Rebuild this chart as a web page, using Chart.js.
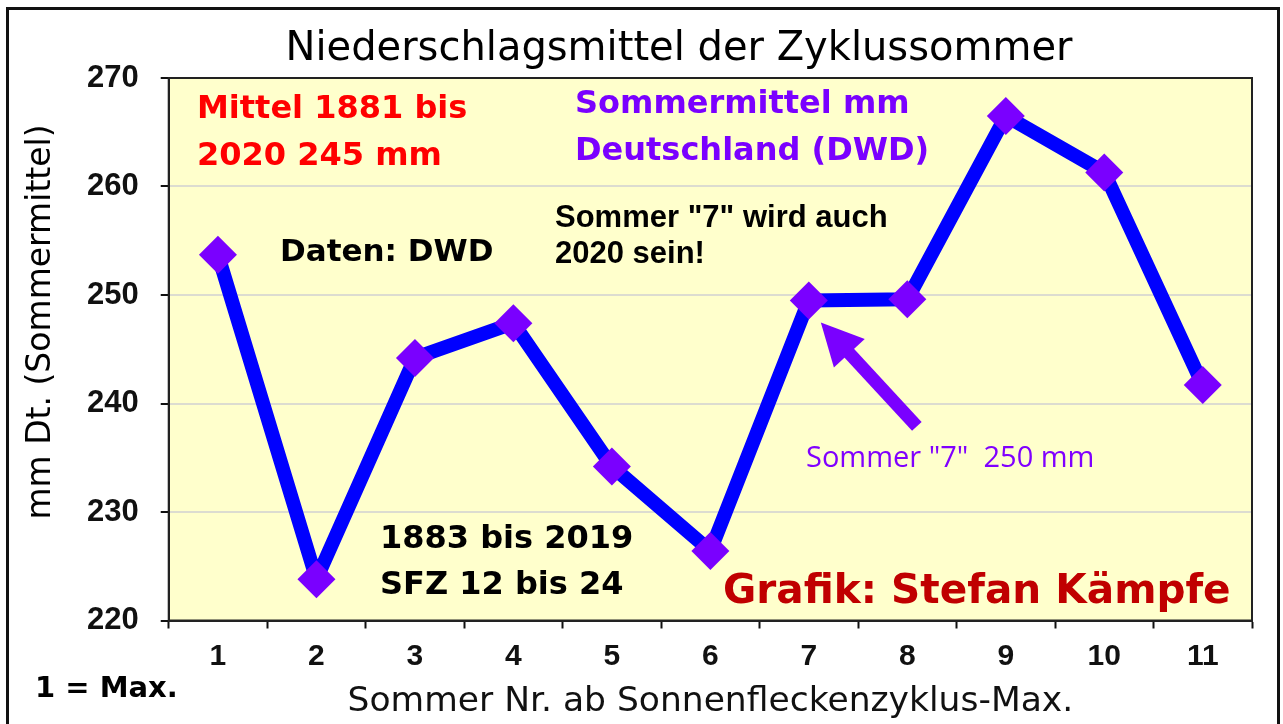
<!DOCTYPE html>
<html>
<head>
<meta charset="utf-8">
<script src="https://cdn.jsdelivr.net/npm/chart.js@4/dist/chart.umd.min.js"></script>
<style>
  html, body { margin: 0; padding: 0; background: #fff; }
  canvas { display: block; }
</style>
</head>
<body>
<canvas id="chart" width="1283" height="724"></canvas>
<script>
// Sommer-Nr. nach dem Sonnenfleckenzyklus-Maximum
const summers = ['1', '2', '3', '4', '5', '6', '7', '8', '9', '10', '11'];
// Niederschlag Sommermittel Deutschland in mm
const rainfall = [253.7, 223.8, 244.2, 247.4, 234.2, 226.4, 249.5, 249.6, 266.5, 261.3, 241.7];
const yMin = 220;
const yMax = 270;
const yStep = 10;

const chartTitle = 'Niederschlagsmittel der Zyklussommer';
const yTitle = 'mm Dt. (Sommermittel)';
const xTitle = 'Sommer Nr. ab Sonnenfleckenzyklus-Max.';

const BOLD = 'bold 32px "DejaVu Sans"';
const notes = [
  { lines: ['Mittel 1881 bis', '2020 245 mm'], x: 197, y: 118, dy: 47, font: BOLD, color: '#ff0000' },
  { lines: ['Sommermittel mm', 'Deutschland (DWD)'], x: 575, y: 113, dy: 47, font: BOLD, color: '#7a00ff' },
  { lines: ['Daten: DWD'], x: 280, y: 261, dy: 0, font: 'bold 31px "DejaVu Sans"', color: '#000' },
  { lines: ['Sommer "7" wird auch', '2020 sein!'], x: 555, y: 227, dy: 36, font: 'bold 31px "Liberation Sans"', color: '#000' },
  { lines: ['1883 bis 2019', 'SFZ 12 bis 24'], x: 380, y: 548, dy: 46, font: BOLD, color: '#000' },
  { lines: ['Grafik: Stefan Kämpfe'], x: 723, y: 603, dy: 0, font: 'bold 40.6px "DejaVu Sans"', color: '#c00000' },
  { lines: ['1 = Max.'], x: 35, y: 697, dy: 0, font: 'bold 29px "DejaVu Sans"', color: '#000' },
  { lines: ['Sommer "7"  250 mm'], x: 806, y: 467, dy: 0, font: '29px "Open Sans"', color: '#8000ff' }
];

const decor = {
  id: 'decor',
  beforeDraw(chart) {
    const { ctx, chartArea: a } = chart;
    ctx.save();
    ctx.fillStyle = '#fff';
    ctx.fillRect(0, 0, chart.width, chart.height);
    ctx.strokeStyle = '#111';
    ctx.lineWidth = 3;
    ctx.strokeRect(7.5, 8.5, 1271, 760);
    ctx.fillStyle = '#ffffcc';
    ctx.fillRect(a.left, a.top, a.right - a.left, a.bottom - a.top);
    ctx.restore();
  },
  beforeDatasetsDraw(chart) {
    const { ctx, chartArea: a } = chart;
    ctx.save();
    ctx.strokeStyle = '#222';
    ctx.lineWidth = 2;
    ctx.strokeRect(a.left, a.top, a.right - a.left, a.bottom - a.top);
    ctx.restore();
  },
  afterDraw(chart) {
    const { ctx } = chart;
    ctx.save();
    // Titel
    ctx.fillStyle = '#000';
    ctx.font = '40px "DejaVu Sans"';
    ctx.textAlign = 'center';
    ctx.textBaseline = 'alphabetic';
    ctx.fillText(chartTitle, 679, 60);
    // Y-Achsentitel
    ctx.save();
    ctx.translate(50, 322);
    ctx.rotate(-Math.PI / 2);
    ctx.font = '33px "DejaVu Sans"';
    ctx.fillText(yTitle, 0, 0);
    ctx.restore();
    // Textfelder
    ctx.textAlign = 'left';
    notes.forEach(n => {
      ctx.font = n.font;
      ctx.fillStyle = n.color;
      n.lines.forEach((t, i) => ctx.fillText(t, n.x, n.y + i * n.dy));
    });
    // Pfeil auf Sommer 7
    const meta = chart.getDatasetMeta(0);
    const p = meta.data[6];
    const tipX = p.x + 12, tipY = p.y + 22;
    const tailX = p.x + 108, tailY = p.y + 126;
    const ang = Math.atan2(tipY - tailY, tipX - tailX);
    const headLen = 42, headHalf = 21;
    const bx = tipX - Math.cos(ang) * headLen, by = tipY - Math.sin(ang) * headLen;
    ctx.strokeStyle = '#7a00ff';
    ctx.fillStyle = '#7a00ff';
    ctx.lineWidth = 13;
    ctx.beginPath();
    ctx.moveTo(tailX, tailY);
    ctx.lineTo(bx + Math.cos(ang) * 4, by + Math.sin(ang) * 4);
    ctx.stroke();
    ctx.beginPath();
    ctx.moveTo(tipX, tipY);
    ctx.lineTo(bx + Math.sin(ang) * headHalf, by - Math.cos(ang) * headHalf);
    ctx.lineTo(bx - Math.sin(ang) * headHalf, by + Math.cos(ang) * headHalf);
    ctx.closePath();
    ctx.fill();
    ctx.restore();
  }
};

new Chart(document.getElementById('chart'), {
  type: 'line',
  data: {
    labels: summers,
    datasets: [{
      label: 'Sommermittel mm',
      data: rainfall,
      borderColor: '#0000ff',
      borderWidth: 14,
      borderJoinStyle: 'bevel',
      tension: 0,
      pointStyle: 'rectRot',
      pointRadius: 19,
      pointHoverRadius: 19,
      pointBackgroundColor: '#7a00ff',
      pointBorderWidth: 0
    }]
  },
  options: {
    responsive: false,
    devicePixelRatio: 1,
    animation: false,
    layout: { padding: { left: 65, right: 31, top: 78, bottom: 0 } },
    plugins: {
      legend: { display: false },
      tooltip: { enabled: false }
    },
    scales: {
      x: {
        offset: true,
        grid: { offset: true, drawOnChartArea: false, tickLength: 8, tickColor: '#111', tickWidth: 2 },
        border: { color: '#222', width: 2 },
        ticks: { color: '#111', padding: 13, font: { family: 'Liberation Sans', size: 30, weight: 'bold', lineHeight: 1 } },
        title: {
          display: true,
          text: xTitle,
          color: '#111',
          padding: { top: 0, bottom: 5 },
          font: { family: 'DejaVu Sans', size: 34.5, lineHeight: 1 }
        }
      },
      y: {
        min: yMin,
        max: yMax,
        grid: { color: '#dcdcd0', lineWidth: 2, tickLength: 8, tickColor: '#111', tickWidth: 2 },
        border: { color: '#222', width: 2 },
        ticks: { stepSize: yStep, color: '#111', padding: 22, font: { family: 'Liberation Sans', size: 31, weight: 'bold' } }
      }
    }
  },
  plugins: [decor]
});
</script>
</body>
</html>
